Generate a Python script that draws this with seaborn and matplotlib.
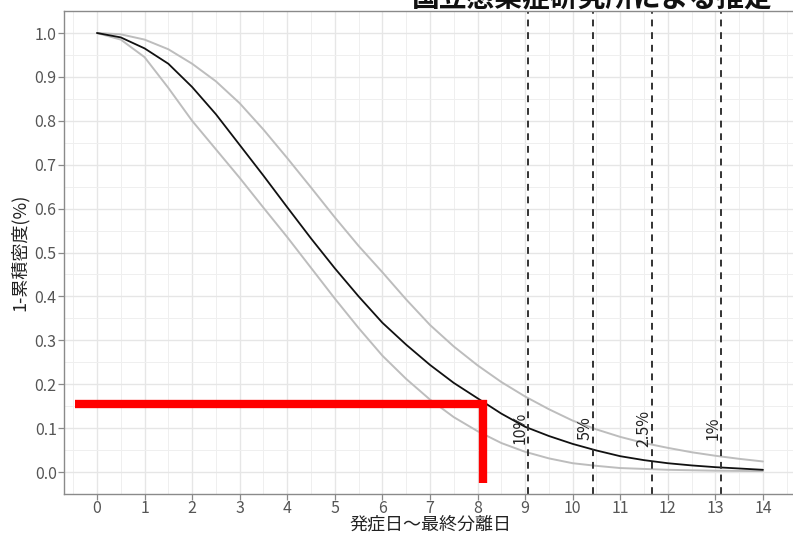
import numpy as np
import pandas as pd
import matplotlib
matplotlib.use("Agg")
import matplotlib.pyplot as plt
import seaborn as sns

# 発症日からの日数と 1-累積密度
days = [0, 0.5, 1, 1.5, 2, 2.5, 3, 3.5, 4, 4.5, 5, 5.5, 6, 6.5, 7, 7.5,
        8, 8.5, 9, 9.5, 10, 10.5, 11, 11.5, 12, 12.5, 13, 13.5, 14]
center = [1.0, 0.99, 0.965, 0.93, 0.877, 0.815, 0.745, 0.675, 0.603, 0.532,
          0.464, 0.40, 0.34, 0.29, 0.244, 0.203, 0.168, 0.133, 0.103, 0.082,
          0.064, 0.049, 0.036, 0.027, 0.02, 0.015, 0.011, 0.008, 0.005]
upper = [1.0, 0.997, 0.985, 0.963, 0.93, 0.89, 0.84, 0.78, 0.715, 0.648,
         0.58, 0.515, 0.455, 0.393, 0.335, 0.286, 0.243, 0.205, 0.172, 0.143,
         0.117, 0.097, 0.08, 0.066, 0.055, 0.045, 0.037, 0.03, 0.024]
lower = [1.0, 0.985, 0.945, 0.875, 0.80, 0.735, 0.67, 0.602, 0.535, 0.465,
         0.395, 0.328, 0.265, 0.212, 0.165, 0.125, 0.093, 0.066, 0.046, 0.031,
         0.02, 0.014, 0.009, 0.007, 0.005, 0.004, 0.003, 0.0025, 0.002]

# 残存割合の目安線
pct_days = [9.06, 10.43, 11.67, 13.12]
pct_labels = ["10%", "5%", "2.5%", "1%"]

# 赤い補助線
cut_day = 8.12
cut_prob = 0.155

df = pd.DataFrame({
    "day": days * 3,
    "value": center + upper + lower,
    "series": ["center"] * len(days) + ["upper"] * len(days) + ["lower"] * len(days),
})

sns.set_theme(style="white")
plt.rcParams["font.family"] = ["Noto Sans CJK JP", "DejaVu Sans"]

fig = plt.figure(figsize=(7.93, 5.34), dpi=100)
ax = fig.add_axes([0.0803, 0.075, 0.9238, 0.9043])

# グリッド
ax.set_xticks(range(0, 15))
ax.set_yticks(np.round(np.arange(0, 1.01, 0.1), 1))
ax.set_xticks(np.arange(-0.5, 15, 1), minor=True)
ax.set_yticks(np.arange(0.05, 1.05, 0.1), minor=True)
ax.grid(True, which="major", color="#e6e6e6", linewidth=1.0)
ax.grid(True, which="minor", color="#efefef", linewidth=0.7)
ax.set_axisbelow(True)

sns.lineplot(data=df[df.series != "center"], x="day", y="value", hue="series",
             palette={"upper": "#bdbdbd", "lower": "#bdbdbd"}, linewidth=1.4,
             legend=False, ax=ax)
sns.lineplot(data=df[df.series == "center"], x="day", y="value", color="#111111",
             linewidth=1.3, legend=False, ax=ax)

for d, lab in zip(pct_days, pct_labels):
    ax.axvline(d, color="#333333", linewidth=1.4, linestyle=(0, (3.5, 3)))
    ax.text(d - 0.17, 0.1, lab, rotation=90, ha="center", va="center",
            fontsize=11.5, color="#222222")

# 赤線
ax.plot([-0.46, cut_day + 0.08], [cut_prob, cut_prob], color="#ff0000",
        linewidth=6, solid_capstyle="butt")
ax.plot([cut_day, cut_day], [cut_prob + 0.01, -0.025], color="#ff0000",
        linewidth=6, solid_capstyle="butt")

ax.set_xlim(-0.7, 14.7)
ax.set_ylim(-0.05, 1.05)
ax.set_xticklabels([str(i) for i in range(0, 15)])
ax.set_yticklabels([f"{v:.1f}" for v in np.arange(0, 1.01, 0.1)])

for s in ["left", "bottom", "top"]:
    ax.spines[s].set_color("#8a8a8a")
    ax.spines[s].set_linewidth(1.0)
ax.spines["right"].set_visible(False)
ax.tick_params(axis="both", which="major", length=4, width=0.9, color="#8a8a8a",
               labelsize=11.5, labelcolor="#555555", pad=1, bottom=True, left=True)
ax.tick_params(axis="x", which="major", pad=0)
ax.tick_params(axis="both", which="minor", length=0)

ax.set_xlabel("発症日〜最終分離日", fontsize=13, color="#222222")
ax.xaxis.set_label_coords(0.5, -0.064)
ax.xaxis.label.set_va("center")
ax.set_ylabel("1-累積密度(%)", fontsize=13, color="#222222", labelpad=4)

fig.text(412 / 793, 1 - 6 / 534, "国立感染症研究所による推定", fontsize=20,
         fontweight="bold", color="#111111", ha="left", va="baseline")

fig.savefig("out.png", dpi=100)
